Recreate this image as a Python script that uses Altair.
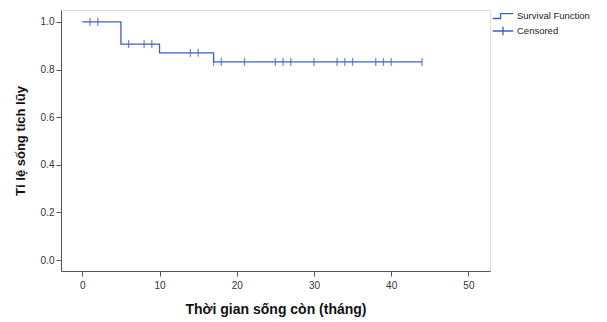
import altair as alt
import pandas as pd

# Step function (Kaplan-Meier) points
step_time = [0, 5, 10, 17, 44]
step_surv = [1.0, 0.907, 0.870, 0.832, 0.832]

# Censored observations
cens_time = [1, 2, 6, 8, 9, 14, 15, 17, 18, 21, 25, 26, 27, 30, 33, 34, 35, 38, 39, 40, 44]
cens_surv = [1.0, 1.0, 0.907, 0.907, 0.907, 0.870, 0.870] + [0.832] * 14

legend_names = ["Survival Function", "Censored"]
x_ticks = [0, 10, 20, 30, 40, 50]
y_ticks = [0.0, 0.2, 0.4, 0.6, 0.8, 1.0]

BLUE = "#3d5fc4"
GRAY = "#555555"

step_df = pd.DataFrame({"t": step_time, "s": step_surv})
cens_df = pd.DataFrame({"t": cens_time, "s": cens_surv})
leg_df = pd.DataFrame({"t": [0, 0], "s": [1.0, 1.0], "series": legend_names})

xscale = alt.Scale(domain=[-2.76, 52.8], nice=False, zero=False)
yscale = alt.Scale(domain=[-0.046, 1.05], nice=False, zero=False)

xaxis = alt.Axis(values=x_ticks, title="Thời gian sống còn (tháng)", grid=False,
                 labelFontSize=10, labelColor="#333", tickColor=GRAY, domainColor=GRAY,
                 titleFontSize=14, titleFontWeight="bold", titleColor="#111",
                 titlePadding=12, labelPadding=4, tickSize=5)
yaxis = alt.Axis(values=y_ticks, format=".1f", title="Tỉ lệ sống tích lũy", grid=False,
                 labelFontSize=10, labelColor="#333", tickColor=GRAY, domainColor=GRAY,
                 titleFontSize=13, titleFontWeight="bold", titleColor="#111",
                 titlePadding=13, labelPadding=2, tickSize=5)

line = alt.Chart(step_df).mark_line(interpolate="step-after", color=BLUE, strokeWidth=1.3).encode(
    x=alt.X("t:Q", scale=xscale, axis=xaxis),
    y=alt.Y("s:Q", scale=yscale, axis=yaxis),
)

ticks = alt.Chart(cens_df).mark_tick(orient="vertical", color=BLUE, size=8, thickness=1.3).encode(
    x=alt.X("t:Q", scale=xscale),
    y=alt.Y("s:Q", scale=yscale),
)

step_path = "M-1.45,0.35H-0.35V-0.35H1.45"
plus_path = "M-1.45,0H1.45M0,-0.6V0.6"

legend_layer = alt.Chart(leg_df).mark_point(opacity=0, filled=False).encode(
    x=alt.X("t:Q", scale=xscale),
    y=alt.Y("s:Q", scale=yscale),
    shape=alt.Shape("series:N",
                    scale=alt.Scale(domain=legend_names, range=[step_path, plus_path]),
                    legend=alt.Legend(title=None, orient="none", legendX=434, legendY=-2,
                                      symbolOpacity=1, symbolStrokeColor=BLUE,
                                      symbolFillColor="transparent", symbolStrokeWidth=1.3,
                                      symbolSize=200, labelFontSize=9.5, labelColor="#222",
                                      labelOffset=6, rowPadding=1, labelLimit=200)),
)

chart = alt.layer(line, ticks, legend_layer).properties(
    width=429, height=261,
    autosize=alt.AutoSizeParams(type="none"),
    padding={"left": 53, "top": 2, "right": 100, "bottom": 50},
).configure_view(stroke=GRAY, strokeWidth=1.5).configure(font="Liberation Sans")

chart.save("out.html", embed_options={"renderer": "svg", "actions": False})
